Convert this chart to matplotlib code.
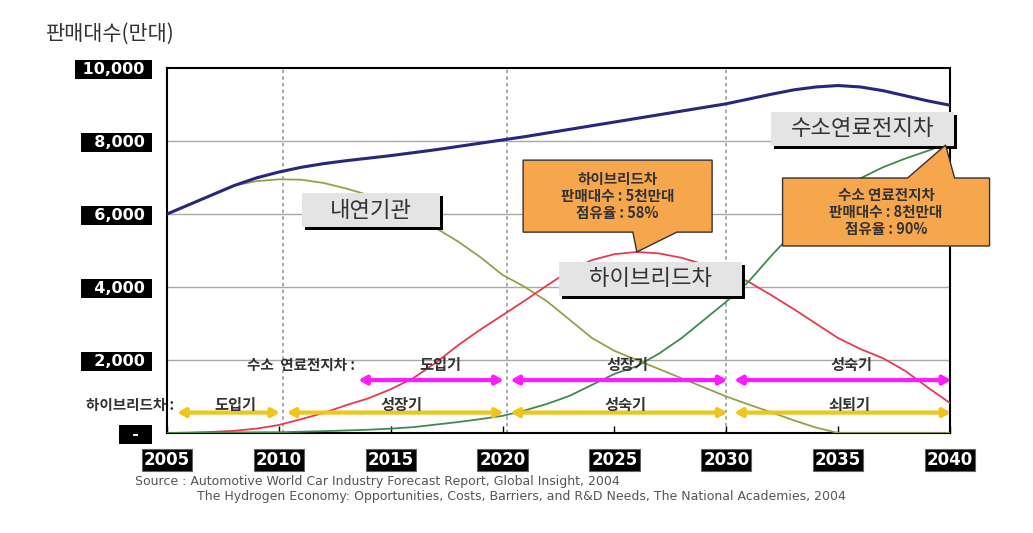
import matplotlib
matplotlib.use("Agg")
import matplotlib.pyplot as plt
from matplotlib.patches import Rectangle, Polygon
import matplotlib.transforms as mtransforms

KR = ["Noto Sans CJK KR", "DejaVu Sans"]

# sales volume, in units of 10,000 cars
years = [2005, 2006, 2007, 2008, 2009, 2010, 2011, 2012, 2013, 2014, 2015, 2016,
         2017, 2018, 2019, 2020, 2021, 2022, 2023, 2024, 2025, 2026, 2027, 2028,
         2029, 2030, 2031, 2032, 2033, 2034, 2035, 2036, 2037, 2038, 2039, 2040]
total = [6000, 6260, 6520, 6780, 6990, 7150, 7280, 7380, 7460, 7530, 7600, 7680,
         7760, 7850, 7940, 8030, 8120, 8220, 8320, 8420, 8520, 8620, 8720, 8820,
         8920, 9020, 9150, 9280, 9400, 9480, 9520, 9480, 9380, 9240, 9100, 8980]
ice = [6000, 6250, 6520, 6780, 6900, 6950, 6940, 6850, 6700, 6520, 6250, 5950,
       5620, 5250, 4820, 4330, 4000, 3600, 3100, 2600, 2250, 2000, 1750, 1500,
       1250, 1000, 780, 570, 350, 150, 0, 0, 0, 0, 0, 0]
hybrid = [0, 10, 30, 60, 120, 220, 380, 550, 760, 950, 1200, 1500,
          1920, 2400, 2830, 3230, 3630, 4050, 4450, 4740, 4900, 4960, 4920, 4800,
          4620, 4420, 4140, 3780, 3400, 3000, 2600, 2300, 2050, 1700, 1250, 820]
fcev = [0, 5, 10, 15, 18, 20, 35, 50, 70, 90, 120, 160,
        230, 300, 380, 470, 620, 800, 1020, 1320, 1620, 1830, 2180, 2600,
        3100, 3600, 4150, 4850, 5500, 6100, 6600, 6980, 7280, 7520, 7730, 7950]

x_ticks = [2005, 2010, 2015, 2020, 2025, 2030, 2035, 2040]
y_ticks = [0, 2000, 4000, 6000, 8000, 10000]
y_ticklabels = ["-", "2,000", "4,000", "6,000", "8,000", "10,000"]
period_lines = [2010.2, 2020.2, 2030]

fcev_bounds = [2013.4, 2020.2, 2030.2, 2040.2]
fcev_phases = ["도입기", "성장기", "성숙기"]
hybrid_bounds = [2005.3, 2010.2, 2020.2, 2030.2, 2040.2]
hybrid_phases = ["도입기", "성장기", "성숙기", "쇠퇴기"]

fig = plt.figure(figsize=(10.33, 5.33), dpi=100)
ax = fig.add_axes([0.1617, 0.1876, 0.758, 0.6848])

for y in y_ticks[1:-1]:
    ax.axhline(y, color="#a8a8a8", lw=1, zorder=1)
for x in period_lines:
    ax.axvline(x, color="#999999", lw=1.2, ls=(0, (2, 2)), zorder=1)

ax.plot(years, ice, color="#96a04c", lw=1.3, zorder=3)
ax.plot(years, hybrid, color="#e8394f", lw=1.3, zorder=3)
ax.plot(years, fcev, color="#3d8b4d", lw=1.3, zorder=3)
ax.plot(years, total, color="#27277d", lw=2.2, zorder=4)

ax.set_xlim(2005, 2040)
ax.set_ylim(0, 10000)
ax.set_xticks(x_ticks)
ax.set_xticklabels([str(t) for t in x_ticks])
ax.set_yticks(y_ticks)
ax.set_yticklabels([(" " if t == "10,000" else "  ") + t + " " if t != "-" else "  -  "
                    for t in y_ticklabels])
ax.tick_params(axis="x", direction="in", length=5, width=1, pad=13, top=False)
ax.tick_params(axis="y", length=0, pad=12)
for lbl in ax.get_xticklabels():
    lbl.set_fontsize(12)
    lbl.set_fontweight("bold")
    lbl.set_color("white")
    lbl.set_bbox(dict(boxstyle="square,pad=0.12", fc="black", ec="#666666", lw=0.8))
for lbl in ax.get_yticklabels():
    lbl.set_fontsize(11.5)
    lbl.set_fontweight("bold")
    lbl.set_color("white")
    lbl.set_bbox(dict(boxstyle="square,pad=0.12", fc="black", ec="none"))
for sp in ax.spines.values():
    sp.set_color("black")
    sp.set_linewidth(1.5)

fig.text(0.044, 0.937, "판매대수(만대)", fontsize=15, family=KR, color="#333333",
         ha="left", va="center")


def arrow_row(bounds, yv, color):
    for a, b in zip(bounds[:-1], bounds[1:]):
        ax.annotate("", xy=(b - 0.15, yv), xytext=(a + 0.15, yv),
                    arrowprops=dict(arrowstyle="<|-|>,head_length=0.45,head_width=0.25",
                                    color=color, lw=3, shrinkA=0, shrinkB=0),
                    annotation_clip=False, zorder=5)


arrow_row(fcev_bounds, 1450, "#ff1aff")
arrow_row(hybrid_bounds, 560, "#f0c419")
for name, a, b in zip(fcev_phases, fcev_bounds[:-1], fcev_bounds[1:]):
    ax.text((a + b) / 2 + 0.4, 1850, name, family=KR, fontsize=11, fontweight="bold",
            color="#333333", ha="center", va="center", zorder=6)
for name, a, b in zip(hybrid_phases, hybrid_bounds[:-1], hybrid_bounds[1:]):
    ax.text((a + b) / 2 + 0.3, 760, name, family=KR, fontsize=11, fontweight="bold",
            color="#333333", ha="center", va="center", zorder=6)
ax.text(2013.4, 1850, "수소  연료전지차 :", family=KR, fontsize=10.5, fontweight="bold",
        color="#333333", ha="right", va="center", zorder=6)
ax.text(2005.3, 760, "하이브리드차 :", family=KR, fontsize=10.5, fontweight="bold",
        color="#333333", ha="right", va="center", zorder=6, clip_on=False)

ident = mtransforms.IdentityTransform()


def to_px(x, y):
    return ax.transData.transform((x, y))


# gray name tags with a black drop shadow
def tag(name, xv, yv, w, h):
    cx, cy = to_px(xv, yv)
    ax.add_patch(Rectangle((cx - w / 2 + 3, cy - h / 2 - 3), w, h, fc="black", ec="none",
                           transform=ident, zorder=7, clip_on=False))
    ax.add_patch(Rectangle((cx - w / 2, cy - h / 2), w, h, fc="#e4e4e4", ec="none",
                           transform=ident, zorder=7, clip_on=False))
    ax.text(xv, yv, name, family=KR, fontsize=16, color="#333333",
            ha="center", va="center", zorder=8, clip_on=False)


tag("내연기관", 2014.1, 6100, 138, 34)
tag("하이브리드차", 2026.6, 4220, 183, 34)
tag("수소연료전지차", 2036.1, 8330, 183, 34)


# orange call-outs with a pointer
def callout(lines, xv, yv, w, h, tip, base, side):
    cx, cy = to_px(xv, yv)
    tx, ty = to_px(*tip)
    L, R, B, T = cx - w / 2, cx + w / 2, cy - h / 2, cy + h / 2
    b1, b2 = tx + base[0], tx + base[1]
    if side == "bottom":
        pts = [(L, B), (b1, B), (tx, ty), (b2, B), (R, B), (R, T), (L, T)]
    else:
        pts = [(L, B), (R, B), (R, T), (b2, T), (tx, ty), (b1, T), (L, T)]
    ax.add_patch(Polygon(pts, closed=True, fc="#f6a64c", ec="#333333", lw=1,
                         transform=ident, zorder=9, clip_on=False))
    ax.text(xv, yv, lines, family=KR, fontsize=10.5, fontweight="bold", color="#333333",
            ha="center", va="center", linespacing=1.05, zorder=10, clip_on=False)


callout("하이브리드차\n판매대수 : 5천만대\n점유율 : 58%", 2025.14, 6490, 189, 72,
        (2026, 4960), (-4, 40), "bottom")
callout("수소 연료전지차\n판매대수 : 8천만대\n점유율 : 90%", 2037.14, 6055, 207, 68,
        (2039.8, 7890), (-38, 9), "top")

fig.text(0.131, 0.096, "Source : Automotive World Car Industry Forecast Report, Global Insight, 2004",
         fontsize=9, color="#555555", ha="left", va="center")
fig.text(0.191, 0.069, "The Hydrogen Economy: Opportunities, Costs, Barriers, and R&D Needs, The National Academies, 2004",
         fontsize=9, color="#555555", ha="left", va="center")

fig.savefig("out.png", dpi=100)
